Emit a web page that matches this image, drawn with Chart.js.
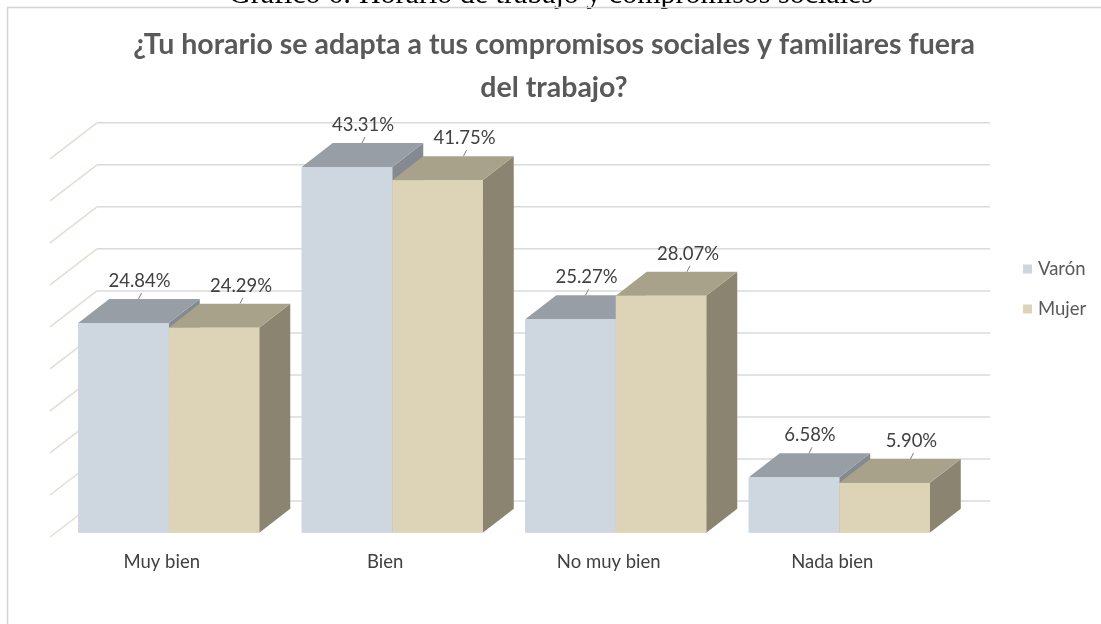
<!DOCTYPE html>
<html>
<head>
<meta charset="utf-8">
<script src="https://cdn.jsdelivr.net/npm/chart.js@4.4.1/dist/chart.umd.min.js"></script>
<style>
  html, body { margin: 0; padding: 0; background: #ffffff; }
  #wrap { position: relative; width: 1101px; height: 624px; overflow: hidden; }
  canvas { display: block; }
</style>
</head>
<body>
<div id="wrap"><canvas id="c" width="1101" height="624"></canvas></div>
<script>
// ---- data ----
const categories = ['Muy bien', 'Bien', 'No muy bien', 'Nada bien'];
const seriesNames = ['Varón', 'Mujer'];
const varonValues = [24.84, 43.31, 25.27, 6.58];
const mujerValues = [24.29, 41.75, 28.07, 5.90];
const titleLines = ['¿Tu horario se adapta a tus compromisos sociales y familiares fuera', 'del trabajo?'];
const captionText = 'Gráfico 6: Horario de trabajo y compromisos sociales';
const yMin = 0, yMax = 45, yStep = 5;

// ---- styles ----
const frontColors = ['#CED6E0', '#DDD4B8'];
const topColors = ['#989EA6', '#A9A28B'];
const sideColors = ['#858A92', '#8A8470'];
const DX = 31, DY = 24;

const threeD = {
  id: 'threeD',
  beforeDraw(chart) {
    const ctx = chart.ctx;
    ctx.save();
    ctx.fillStyle = '#ffffff';
    ctx.fillRect(0, 0, chart.width, chart.height);
    // caption (cut off at top)
    ctx.fillStyle = '#000000';
    ctx.font = '30px "Liberation Serif"';
    ctx.textAlign = 'center';
    ctx.textBaseline = 'alphabetic';
    ctx.fillText(captionText, 551, 3);
    // frame
    ctx.strokeStyle = '#D4D4D4';
    ctx.lineWidth = 1.5;
    ctx.beginPath();
    ctx.moveTo(7.5, 624);
    ctx.lineTo(7.5, 7.5);
    ctx.lineTo(1101, 7.5);
    ctx.stroke();
    ctx.restore();
  },
  beforeDatasetsDraw(chart) {
    const ctx = chart.ctx;
    const ys = chart.scales.y;
    const area = chart.chartArea;
    const base = ys.getPixelForValue(0);
    ctx.save();
    ys.ticks.forEach(t => {
      const yf = ys.getPixelForValue(t.value);
      const yb = base + (yf - base) * 0.995 - 31.8;
      ctx.strokeStyle = '#DADADA';
      ctx.lineWidth = 1.5;
      ctx.beginPath();
      ctx.moveTo(area.left + 40, yb);
      ctx.lineTo(area.right + 39, yb);
      ctx.stroke();
      ctx.strokeStyle = '#E4DDD4';
      ctx.beginPath();
      ctx.moveTo(area.left + 40, yb);
      ctx.lineTo(area.left - 7, yb + 36);
      ctx.stroke();
    });
    ctx.restore();
  },
  afterDatasetsDraw(chart) {
    const ctx = chart.ctx;
    const metas = [chart.getDatasetMeta(0), chart.getDatasetMeta(1)];
    ctx.save();
    for (let i = 0; i < categories.length; i++) {
      metas.forEach((meta, d) => {
        const el = meta.data[i];
        const p = el.getProps(['x', 'y', 'width', 'base'], true);
        const l = p.x - p.width / 2, r = p.x + p.width / 2, t = p.y, b = p.base;
        // right side
        ctx.fillStyle = sideColors[d];
        ctx.beginPath();
        ctx.moveTo(r, t); ctx.lineTo(r + DX, t - DY); ctx.lineTo(r + DX, b - DY); ctx.lineTo(r, b);
        ctx.closePath(); ctx.fill();
        // top
        ctx.fillStyle = topColors[d];
        ctx.beginPath();
        ctx.moveTo(l, t); ctx.lineTo(l + DX, t - DY); ctx.lineTo(r + DX, t - DY); ctx.lineTo(r, t);
        ctx.closePath(); ctx.fill();
        // front
        ctx.fillStyle = frontColors[d];
        ctx.fillRect(l, t, r - l, b - t);
      });
    }
    ctx.restore();
  },
  afterDraw(chart) {
    const ctx = chart.ctx;
    const xs = chart.scales.x;
    ctx.save();
    // title
    ctx.fillStyle = '#595959';
    ctx.font = 'bold 28.5px Lato';
    ctx.textAlign = 'center';
    ctx.textBaseline = 'middle';
    ctx.fillText(titleLines[0], 554, 45);
    ctx.fillText(titleLines[1], 554, 88);
    // data labels
    const labelOffsets = [16, 27];
    ctx.font = '18.5px Lato';
    [0, 1].forEach(d => {
      const meta = chart.getDatasetMeta(d);
      const vals = chart.data.datasets[d].data;
      meta.data.forEach((el, i) => {
        const p = el.getProps(['x', 'y'], true);
        const lx = p.x + labelOffsets[d];
        ctx.fillStyle = '#404040';
        ctx.fillText(vals[i].toFixed(2) + '%', lx, p.y - 42);
        ctx.strokeStyle = '#7F7F7F';
        ctx.lineWidth = 1;
        ctx.beginPath();
        ctx.moveTo(lx + 2, p.y - 30);
        ctx.lineTo(lx - 1, p.y - 24);
        ctx.stroke();
      });
    });
    // category labels
    ctx.font = '18.5px Lato';
    ctx.fillStyle = '#404040';
    categories.forEach((c, i) => {
      ctx.fillText(c, xs.getPixelForValue(i) - 7, 562);
    });
    // legend
    ctx.textAlign = 'left';
    ctx.font = '18.5px Lato';
    seriesNames.forEach((n, d) => {
      const ly = 269 + d * 40;
      ctx.fillStyle = frontColors[d];
      ctx.fillRect(1023, ly - 4.5, 9, 9);
      ctx.fillStyle = '#595959';
      ctx.fillText(n, 1038, ly);
    });
    ctx.restore();
  }
};

new Chart(document.getElementById('c'), {
  type: 'bar',
  data: {
    labels: categories,
    datasets: [
      { label: seriesNames[0], data: varonValues, backgroundColor: frontColors[0] },
      { label: seriesNames[1], data: mujerValues, backgroundColor: frontColors[1] }
    ]
  },
  options: {
    responsive: false,
    animation: false,
    events: [],
    layout: { padding: { left: 57, right: 150, top: 152.7, bottom: 91.2 } },
    datasets: { bar: { categoryPercentage: 0.81, barPercentage: 1.0 } },
    plugins: { legend: { display: false }, title: { display: false }, tooltip: { enabled: false } },
    scales: {
      x: { display: false },
      y: { display: false, min: yMin, max: yMax, ticks: { stepSize: yStep } }
    }
  },
  plugins: [threeD]
});
</script>
</body>
</html>
